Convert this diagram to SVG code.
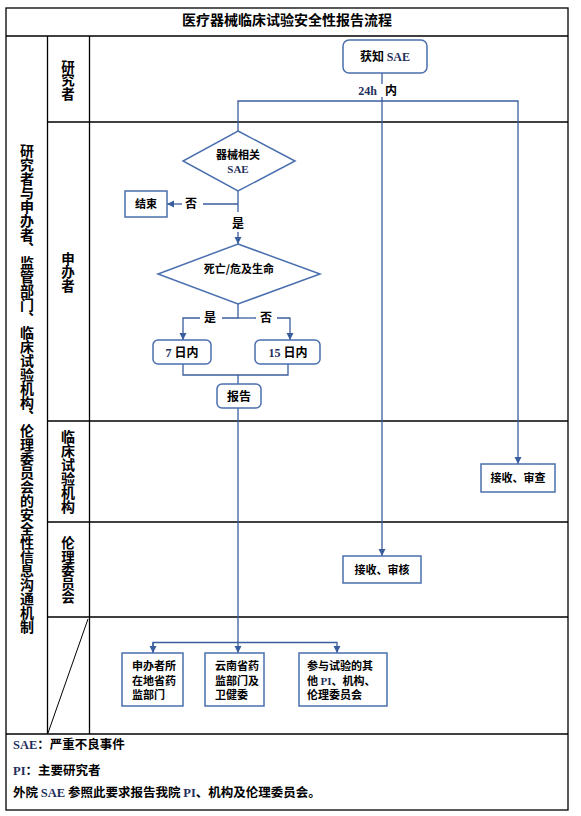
<svg xmlns="http://www.w3.org/2000/svg" width="581" height="816" viewBox="0 0 581 816">
<style>
.frame{fill:none;stroke:#000;stroke-width:1.3}
.box{fill:#fff;stroke:#4a6fae;stroke-width:1.5}
.con{fill:none;stroke:#3a5d9e;stroke-width:1.3}
.cj{font-family:"Noto Sans CJK SC","Noto Sans",sans-serif;font-weight:700;fill:#000}
.la{font-family:"Liberation Serif","Noto Sans CJK SC",serif;font-weight:700;fill:#1f2f5c}
.vt{writing-mode:vertical-rl;font-family:"Noto Sans CJK SC",sans-serif;font-weight:700;fill:#000}
</style>
<defs>
<marker id="ah" markerUnits="userSpaceOnUse" markerWidth="8" markerHeight="8" refX="7" refY="4" orient="auto">
<path d="M0,0.5 L7,4 L0,7.5 z" fill="#3a5d9e"/>
</marker>
</defs>
<rect width="581" height="816" fill="#fff"/>
<g id="frame">
<rect class="frame" x="6" y="8" width="562" height="802"/>
<line class="frame" x1="6" y1="36" x2="568" y2="36"/>
<line class="frame" x1="47.5" y1="36" x2="47.5" y2="734"/>
<line class="frame" x1="89.5" y1="36" x2="89.5" y2="734"/>
<line class="frame" x1="47.5" y1="122" x2="568" y2="122"/>
<line class="frame" x1="47.5" y1="421" x2="568" y2="421"/>
<line class="frame" x1="47.5" y1="522" x2="568" y2="522"/>
<line class="frame" x1="47.5" y1="617" x2="568" y2="617"/>
<line class="frame" x1="6" y1="734" x2="568" y2="734"/>
<line x1="88" y1="619" x2="48" y2="733" stroke="#000" stroke-width="1"/>
<text class="cj" x="287" y="25" font-size="14" text-anchor="middle">医疗器械临床试验安全性报告流程</text>
<text class="vt" x="27" y="388.5" font-size="14" text-anchor="middle">研究者与申办者、监管部门、临床试验机构、伦理委员会的安全性信息沟通机制</text>
<text class="vt" x="68" y="80" font-size="13.5" text-anchor="middle">研究者</text>
<text class="vt" x="68" y="272" font-size="13.5" text-anchor="middle">申办者</text>
<text class="vt" x="68" y="472" font-size="14" text-anchor="middle">临床试验机构</text>
<text class="vt" x="68" y="570" font-size="13.5" text-anchor="middle">伦理委员会</text>
</g>
<g id="connectors">
<path class="con" d="M382,73 V84"/>
<path class="con" d="M382,97 V556" marker-end="url(#ah)"/>
<path class="con" d="M238,131 V101 H518 V464" marker-end="url(#ah)"/>
<path class="con" d="M238,191 V212"/>
<path class="con" d="M238,204 H203"/>
<path class="con" d="M182,204 H167" marker-end="url(#ah)"/>
<path class="con" d="M238,232 V244" marker-end="url(#ah)"/>
<path class="con" d="M238,304 V318 H222"/>
<path class="con" d="M238,318 H256"/>
<path class="con" d="M200,318 H183 V340" marker-end="url(#ah)"/>
<path class="con" d="M277,318 H290 V340" marker-end="url(#ah)"/>
<path class="con" d="M183,364 V375 H288 V364"/>
<path class="con" d="M238,375 V384"/>
<path class="con" d="M238,408 V653" marker-end="url(#ah)"/>
<path class="con" d="M153,653 V642.5 H337 V653" marker-end="url(#ah)"/>
<path class="con" d="M153,642.5 V653" marker-end="url(#ah)"/>
<text class="la" x="377" y="95" font-size="12" fill="#000" text-anchor="end">24h</text>
<text class="cj" x="385" y="95" font-size="12">内</text>
<text class="cj" x="191" y="208" font-size="12" text-anchor="middle">否</text>
<text class="cj" x="238" y="228" font-size="12" text-anchor="middle">是</text>
<text class="cj" x="210" y="322" font-size="12" text-anchor="middle">是</text>
<text class="cj" x="266" y="322" font-size="12" text-anchor="middle">否</text>
</g>
<g id="n-sae">
<rect class="box" x="343" y="40" width="84" height="33" rx="6"/>
<text x="385" y="61" font-size="12" text-anchor="middle"><tspan class="cj">获知 </tspan><tspan class="la">SAE</tspan></text>
</g>
<g id="n-device">
<polygon class="box" points="238,131 295,161 238,191 183,161"/>
<text class="cj" x="238" y="159" font-size="11" text-anchor="middle">器械相关</text>
<text class="la" x="238" y="173" font-size="11" text-anchor="middle">SAE</text>
</g>
<g id="n-end">
<rect class="box" x="125" y="191" width="42" height="26"/>
<text class="cj" x="146" y="208" font-size="11" text-anchor="middle">结束</text>
</g>
<g id="n-death">
<polygon class="box" points="238,244 320,274 238,304 158,274"/>
<text class="cj" x="239" y="273" font-size="11" text-anchor="middle">死亡/危及生命</text>
</g>
<g id="n-7d">
<rect class="box" x="153" y="340" width="58" height="24" rx="5"/>
<text x="182" y="357" font-size="12" text-anchor="middle"><tspan class="la" fill="#000">7 </tspan><tspan class="cj">日内</tspan></text>
</g>
<g id="n-15d">
<rect class="box" x="255" y="340" width="65" height="24" rx="5"/>
<text x="288" y="357" font-size="12" text-anchor="middle"><tspan class="la" fill="#000">15 </tspan><tspan class="cj">日内</tspan></text>
</g>
<g id="n-report">
<rect class="box" x="217" y="384" width="44" height="24" rx="5"/>
<text class="cj" x="239" y="401" font-size="12" text-anchor="middle">报告</text>
</g>
<g id="n-site">
<rect class="box" x="481" y="464" width="74" height="28"/>
<text class="cj" x="518" y="482" font-size="11" text-anchor="middle">接收、审查</text>
</g>
<g id="n-ethics">
<rect class="box" x="343" y="556" width="78" height="27"/>
<text class="cj" x="382" y="574" font-size="11" text-anchor="middle">接收、审核</text>
</g>
<g id="n-sponsor-reg">
<rect class="box" x="122" y="653" width="61" height="53"/>
<text class="cj" x="132" y="670" font-size="11">申办者所</text>
<text class="cj" x="132" y="684.5" font-size="11">在地省药</text>
<text class="cj" x="132" y="699" font-size="11">监部门</text>
</g>
<g id="n-yunnan">
<rect class="box" x="205" y="653" width="59" height="53"/>
<text class="cj" x="215" y="670" font-size="11">云南省药</text>
<text class="cj" x="215" y="684.5" font-size="11">监部门及</text>
<text class="cj" x="215" y="699" font-size="11">卫健委</text>
</g>
<g id="n-others">
<rect class="box" x="299" y="653" width="88" height="53"/>
<text class="cj" x="307" y="670" font-size="11">参与试验的其</text>
<text x="307" y="684.5" font-size="11"><tspan class="cj">他 </tspan><tspan class="la">PI</tspan><tspan class="cj">、机构、</tspan></text>
<text class="cj" x="307" y="699" font-size="11">伦理委员会</text>
</g>
<g id="legend">
<text x="13" y="749" font-size="12.5"><tspan class="la">SAE</tspan><tspan class="cj">：严重不良事件</tspan></text>
<text x="13" y="775" font-size="12.5"><tspan class="la">PI</tspan><tspan class="cj">：主要研究者</tspan></text>
<text x="13" y="797" font-size="12.5"><tspan class="cj">外院 </tspan><tspan class="la">SAE</tspan><tspan class="cj"> 参照此要求报告我院 </tspan><tspan class="la">PI</tspan><tspan class="cj">、机构及伦理委员会。</tspan></text>
</g>
</svg>
